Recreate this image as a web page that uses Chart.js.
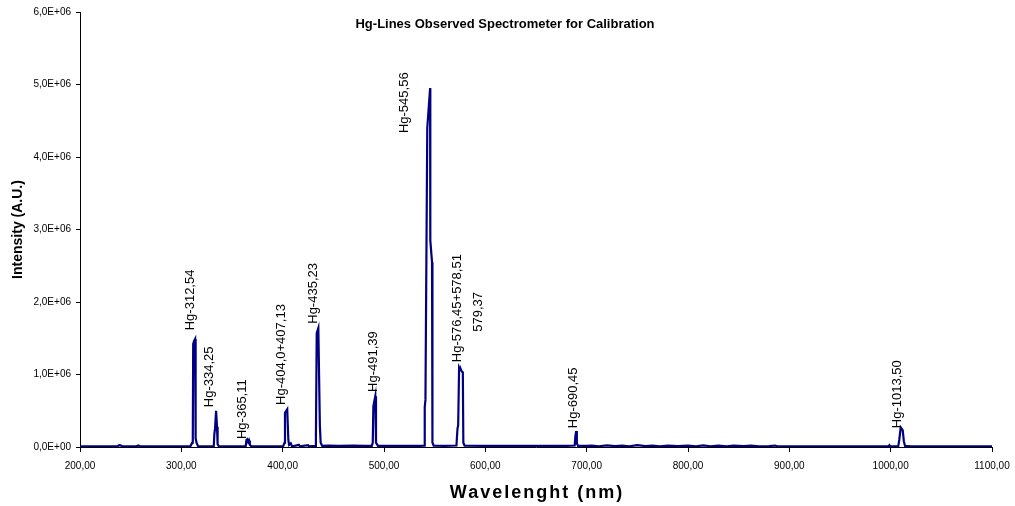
<!DOCTYPE html>
<html>
<head>
<meta charset="utf-8">
<title>Hg-Lines Observed Spectrometer for Calibration</title>
<script src="https://cdn.jsdelivr.net/npm/chart.js@4.4.1/dist/chart.umd.min.js"></script>
<style>
  html, body { margin: 0; padding: 0; background: #ffffff; }
  #wrap { width: 1015px; height: 506px; position: relative; }
</style>
</head>
<body>
<div id="wrap"><canvas id="spec" width="1015" height="506"></canvas></div>
<script>
// Measured spectrum of the Hg calibration lamp: wavelength (nm) and intensity (A.U.)
const wavelengths = [
  200, 220, 237, 238.5, 240, 241.5, 256, 257.5, 259, 280, 300,
  309, 310.8, 311.3, 311.7, 312.5, 313.6, 314.1, 315, 316.5,
  325, 332, 332.6, 333.3, 334.3, 335.2, 335.8, 337,
  350, 363.5, 364.3, 365.2, 366, 366.8, 367.6, 369,
  385, 400.5, 401.9, 402.3, 404.5, 405.6, 406.3, 408, 409, 411, 416, 417, 425, 426,
  432, 432.8, 433.6, 435.2, 436.7, 437.5, 439,
  445, 455, 470, 480, 488, 488.9, 489.5, 491.4, 492.1, 494,
  505, 520, 535, 539.7, 540.2, 540.9, 542.7, 545.5, 545.7, 547.4, 547.8, 549,
  560, 571.5, 572.5, 573.2, 574.1, 575, 575.9, 576.8, 577.8, 578.3, 579.5,
  600, 640, 680, 688.2, 688.8, 689.6, 690.3, 691.5,
  700, 705, 712, 720, 728, 735, 742, 750, 758, 765, 772, 780, 790,
  800, 808, 815, 822, 830, 838, 845, 855, 862, 870, 880, 886, 888, 900,
  998, 998.7, 999.4, 1007.5, 1008.5, 1009.9, 1011, 1011.9, 1013, 1014.2, 1020, 1100
];
const intensities = [
  10000, 9000, 10000, 25000, 22000, 10000, 10000, 22000, 10000, 9000, 10000,
  12000, 60000, 110000, 1420000, 1460000, 1490000, 120000, 60000, 12000,
  10000, 12000, 180000, 260000, 500000, 280000, 40000, 10000,
  10000, 12000, 100000, 110000, 70000, 90000, 30000, 10000,
  10000, 12000, 60000, 470000, 520000, 100000, 30000, 50000, 15000, 12000, 30000, 10000, 25000, 10000,
  15000, 120000, 1570000, 1640000, 300000, 60000, 15000,
  20000, 15000, 20000, 15000, 15000, 60000, 560000, 700000, 60000, 15000,
  15000, 15000, 15000, 20000, 550000, 650000, 4400000, 4950000, 2850000, 2550000, 60000, 20000,
  15000, 20000, 250000, 300000, 1090000, 1060000, 1070000, 1040000, 1030000, 60000, 20000,
  15000, 15000, 15000, 20000, 140000, 220000, 50000, 15000,
  15000, 20000, 10000, 22000, 12000, 20000, 10000, 25000, 12000, 20000, 10000, 18000, 12000,
  20000, 10000, 22000, 10000, 18000, 10000, 20000, 12000, 18000, 10000, 12000, 20000, 10000, 10000,
  10000, 25000, 10000, 12000, 100000, 270000, 250000, 230000, 80000, 15000, 10000, 10000
];

// Line annotations: text and the (wavelength, intensity) point where each label starts
const lineLabels = [
  'Hg-312,54', 'Hg-334,25', 'Hg-365,11', 'Hg-404,0+407,13', 'Hg-435,23', 'Hg-491,39',
  'Hg-545,56', 'Hg-576,45+578,51', '579,37', 'Hg-690,45', 'Hg-1013,50'
];
const labelWavelengths = [308.6, 327.3, 359.9, 398.4, 429.9, 489.1, 519.7, 572.0, 592.8, 686.5, 1006.3];
const labelIntensities = [1610000, 550000, 110000, 580000, 1700000, 760000, 4330000, 1170000, 1590000, 260000, 260000];

// Axis tick values
const xTicks = [200, 300, 400, 500, 600, 700, 800, 900, 1000, 1100];
const yTicks = [0, 1000000, 2000000, 3000000, 4000000, 5000000, 6000000];

const chartTitle = 'Hg-Lines Observed Spectrometer for Calibration';
const xTitle = 'Wavelenght (nm)';
const yTitle = 'Intensity (A.U.)';

const FONT = "'Liberation Sans', Arial, Helvetica, sans-serif";

function sciLabel(v) {
  if (v === 0) return '0,0E+00';
  const exp = Math.floor(Math.log10(Math.abs(v)));
  const mant = v / Math.pow(10, exp);
  const e = (exp < 0 ? '-' : '+') + String(Math.abs(exp)).padStart(2, '0');
  return mant.toFixed(1).replace('.', ',') + 'E' + e;
}

const points = wavelengths.map((w, i) => ({ x: w, y: intensities[i] }));

// Chart title and x-axis title, drawn over the canvas
const titlePlugin = {
  id: 'chartTitleText',
  afterDraw(chart) {
    const ctx = chart.ctx;
    const area = chart.chartArea;
    ctx.save();
    ctx.fillStyle = '#000';
    ctx.textAlign = 'center';
    ctx.textBaseline = 'middle';
    ctx.font = "bold 13px " + FONT;
    ctx.fillText(chartTitle, 505, 24);
    ctx.font = "bold 18px " + FONT;
    if ('letterSpacing' in ctx) ctx.letterSpacing = '2px';
    ctx.fillText(xTitle, (area.left + area.right) / 2 + 1, 493);
    ctx.restore();
  }
};

const lineLabelPlugin = {
  id: 'lineLabels',
  afterDatasetsDraw(chart) {
    const ctx = chart.ctx;
    const xs = chart.scales.x, ys = chart.scales.y;
    ctx.save();
    ctx.font = "13px " + FONT;
    ctx.fillStyle = '#000';
    ctx.textAlign = 'left';
    ctx.textBaseline = 'middle';
    lineLabels.forEach((t, i) => {
      const px = xs.getPixelForValue(labelWavelengths[i]);
      const py = ys.getPixelForValue(labelIntensities[i]);
      ctx.save();
      ctx.translate(px, py);
      ctx.rotate(-Math.PI / 2);
      ctx.fillText(t, 0, 0);
      ctx.restore();
    });
    ctx.restore();
  }
};

new Chart(document.getElementById('spec'), {
  type: 'scatter',
  data: {
    datasets: [{
      data: points,
      showLine: true,
      borderColor: '#000080',
      backgroundColor: '#000080',
      borderWidth: 2.2,
      pointRadius: 0,
      pointHoverRadius: 0,
      tension: 0,
      fill: false
    }]
  },
  options: {
    responsive: false,
    animation: false,
    devicePixelRatio: 1,
    layout: { padding: { top: 12, right: 23, left: 0, bottom: 0 } },
    plugins: {
      legend: { display: false },
      tooltip: { enabled: false },
      title: { display: false }
    },
    scales: {
      x: {
        type: 'linear',
        min: 200,
        max: 1100,
        afterBuildTicks(scale) { scale.ticks = xTicks.map(v => ({ value: v })); },
        afterFit(scale) {
          scale.height = 59;
          scale.paddingLeft = 0;
          scale.paddingRight = 0;
        },
        ticks: {
          font: { family: FONT, size: 10 },
          color: '#000',
          padding: 8,
          maxRotation: 0,
          callback: v => v.toFixed(2).replace('.', ',')
        },
        grid: { drawOnChartArea: false, drawTicks: true, tickLength: 5, color: '#000', tickColor: '#000' },
        border: { display: true, color: '#000', width: 1 },
        title: { display: false }
      },
      y: {
        type: 'linear',
        min: 0,
        max: 6000000,
        afterBuildTicks(scale) { scale.ticks = yTicks.map(v => ({ value: v })); },
        afterFit(scale) {
          scale.width = 80;
          scale.paddingTop = 0;
          scale.paddingBottom = 0;
        },
        ticks: {
          font: { family: FONT, size: 10 },
          color: '#000',
          padding: 5,
          callback: v => sciLabel(v)
        },
        grid: { drawOnChartArea: false, drawTicks: true, tickLength: 4, color: '#000', tickColor: '#000' },
        border: { display: true, color: '#000', width: 1 },
        title: {
          display: true,
          text: yTitle,
          font: { family: FONT, size: 14, weight: 'bold' },
          color: '#000',
          padding: { top: 10, bottom: 0 }
        }
      }
    }
  },
  plugins: [titlePlugin, lineLabelPlugin]
});
</script>
</body>
</html>
